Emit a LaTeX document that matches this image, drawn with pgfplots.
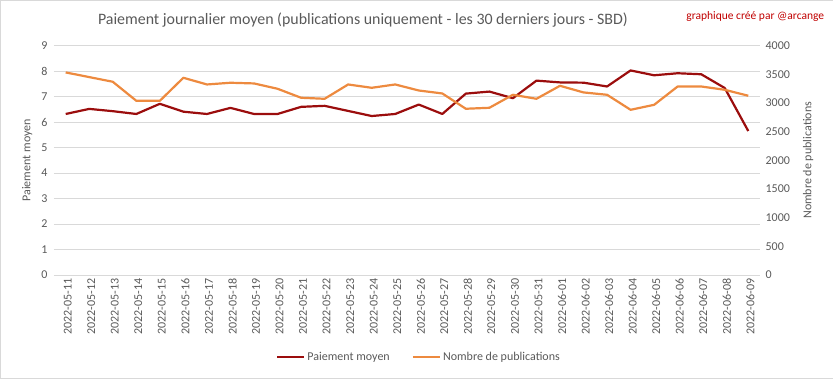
\documentclass[border=0pt]{standalone}
\usepackage{pgfplots}
\pgfplotsset{compat=1.18}
\usepackage{pgfplotstable}
\usepackage{fontspec}
\setmainfont{Carlito}
\definecolor{txt}{HTML}{595959}
\definecolor{gridc}{HTML}{D9D9D9}
\definecolor{payc}{HTML}{9B0D0D}
\definecolor{nbc}{HTML}{ED8A3F}
\definecolor{credit}{HTML}{C00000}
\pgfplotstableread{
idx pay nb
0 6.32 3534
1 6.52 3453
2 6.43 3371
3 6.32 3039
4 6.72 3039
5 6.41 3441
6 6.32 3324
7 6.56 3354
8 6.32 3342
9 6.32 3249
10 6.60 3092
11 6.64 3074
12 6.44 3324
13 6.24 3266
14 6.32 3324
15 6.69 3219
16 6.32 3167
17 7.12 2900
18 7.20 2917
19 6.94 3144
20 7.63 3074
21 7.56 3301
22 7.55 3185
23 7.40 3144
24 8.03 2882
25 7.84 2969
26 7.92 3289
27 7.88 3289
28 7.34 3231
29 5.65 3127
}\data
\begin{document}
\begin{tikzpicture}
\draw[gridc] (0.5pt,-0.5pt) rectangle (832.5pt,-378.5pt);
\node[font=\fontsize{15.9}{18}\selectfont, text=txt] at (363pt,-20pt) {Paiement journalier moyen (publications uniquement - les 30 derniers jours - SBD)};
\node[font=\fontsize{11.5}{14}\selectfont, text=credit] at (755pt,-17pt) {graphique créé par @arcange};
\begin{axis}[
  at={(54.2pt,-275pt)}, anchor=south west, scale only axis,
  width=705.6pt, height=229pt,
  xmin=-0.5, xmax=29.5, ymin=0, ymax=9,
  ytick={0,...,9},
  xtick={0,...,29},
  xticklabels={2022-05-11,2022-05-12,2022-05-13,2022-05-14,2022-05-15,2022-05-16,2022-05-17,2022-05-18,2022-05-19,2022-05-20,2022-05-21,2022-05-22,2022-05-23,2022-05-24,2022-05-25,2022-05-26,2022-05-27,2022-05-28,2022-05-29,2022-05-30,2022-05-31,2022-06-01,2022-06-02,2022-06-03,2022-06-04,2022-06-05,2022-06-06,2022-06-07,2022-06-08,2022-06-09},
  x tick label style={rotate=90, anchor=east, font=\fontsize{12}{12}\selectfont, text=txt, xshift=0pt, yshift=-2pt},
  y tick label style={font=\fontsize{12}{12}\selectfont, text=txt, xshift=-3pt},
  /pgf/number format/assume math mode=true,
  axis line style={draw=none},
  tick style={draw=none},
  ymajorgrids, major grid style={gridc, line width=0.8pt},
  ylabel={Paiement moyen},
  every axis y label/.style={at={(axis description cs:-0.038,0.5)}, rotate=90, anchor=center, font=\fontsize{12}{14}\selectfont, text=txt},
  legend style={at={(0.517,-0.358)}, anchor=center, draw=none, fill=none, font=\fontsize{12}{14}\selectfont, text=txt, legend columns=2, /tikz/every even column/.append style={column sep=20pt}},
  legend image code/.code={\draw[#1] (0pt,0pt) -- (27pt,0pt);},
  legend cell align=left,
]
\addplot[payc, line width=2.2pt, line join=round] table[x=idx, y=pay] {\data};
\addlegendentry{Paiement moyen}
\addlegendimage{nbc, line width=2.2pt}
\addlegendentry{Nombre de publications}
\end{axis}
\begin{axis}[
  at={(54.2pt,-275pt)}, anchor=south west, scale only axis,
  width=705.6pt, height=229pt,
  xmin=-0.5, xmax=29.5, ymin=0, ymax=4000,
  ytick={0,500,...,4000},
  xtick=\empty,
  ytick pos=right, yticklabel pos=right,
  y tick label style={font=\fontsize{12}{12}\selectfont, text=txt, xshift=2pt},
  /pgf/number format/assume math mode=true,
  /pgf/number format/1000 sep={},
  axis line style={draw=none},
  tick style={draw=none},
  ylabel={Nombre de publications},
  every axis y label/.style={at={(axis description cs:1.0683,0.5)}, rotate=90, anchor=center, font=\fontsize{12}{14}\selectfont, text=txt},
]
\addplot[nbc, line width=2.2pt, line join=round] table[x=idx, y=nb] {\data};
\end{axis}
\end{tikzpicture}
\end{document}
